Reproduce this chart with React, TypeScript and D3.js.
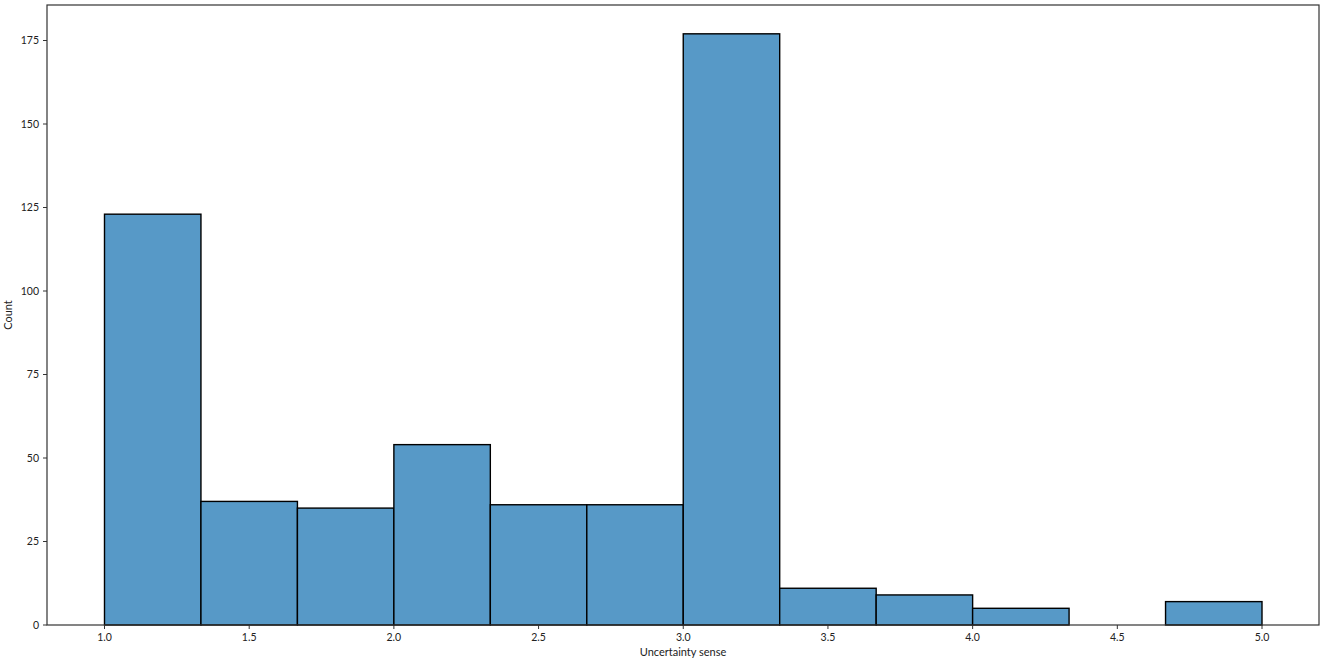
import React from "react";
import * as d3 from "d3";

const binEdges = [1.0, 1.3333, 1.6667, 2.0, 2.3333, 2.6667, 3.0, 3.3333, 3.6667, 4.0, 4.3333, 4.6667, 5.0];
const counts = [123, 37, 35, 54, 36, 36, 177, 11, 9, 5, 0, 7];
const xTicks = [1.0, 1.5, 2.0, 2.5, 3.0, 3.5, 4.0, 4.5, 5.0];
const yTicks = [0, 25, 50, 75, 100, 125, 150, 175];
const xLabel = "Uncertainty sense";
const yLabel = "Count";

export default function App() {
  const W = 1325, H = 662;
  const left = 47, right = 1319, top = 5, bottom = 625;
  const x = d3.scaleLinear().domain([1.0, 5.0]).range([104.5, 1262]);
  const y = d3.scaleLinear().domain([0, 175]).range([625, 40.5]);
  const font = "'Lato', 'DejaVu Sans', sans-serif";
  return (
    <svg width={W} height={H} style={{ position: "absolute", left: 0, top: 0 }} fontFamily={font}>
      <rect x={0} y={0} width={W} height={H} fill="#fff" />
      {counts.map((c, i) =>
        c > 0 ? (
          <rect
            key={i}
            x={x(binEdges[i])}
            y={y(c)}
            width={x(binEdges[i + 1]) - x(binEdges[i])}
            height={y(0) - y(c)}
            fill="#5799c7"
            stroke="#000"
            strokeWidth={1.4}
          />
        ) : null
      )}
      <rect x={left} y={top} width={right - left} height={bottom - top} fill="none" stroke="#333" strokeWidth={1.2} />
      {xTicks.map((t) => (
        <g key={t}>
          <line x1={x(t)} x2={x(t)} y1={bottom} y2={bottom + 4} stroke="#333" strokeWidth={1} />
          <text x={x(t)} y={bottom + 16} textAnchor="middle" fontSize={10.5} fill="#222">
            {t.toFixed(1)}
          </text>
        </g>
      ))}
      {yTicks.map((t) => (
        <g key={t}>
          <line x1={left - 4} x2={left} y1={y(t)} y2={y(t)} stroke="#333" strokeWidth={1} />
          <text x={left - 8} y={y(t) + 3.8} textAnchor="end" fontSize={10.5} fill="#222">
            {t}
          </text>
        </g>
      ))}
      <text x={(left + right) / 2} y={656} textAnchor="middle" fontSize={11} fill="#222">
        {xLabel}
      </text>
      <text transform={`translate(12, ${(top + bottom) / 2}) rotate(-90)`} textAnchor="middle" fontSize={11} fill="#222">
        {yLabel}
      </text>
    </svg>
  );
}
